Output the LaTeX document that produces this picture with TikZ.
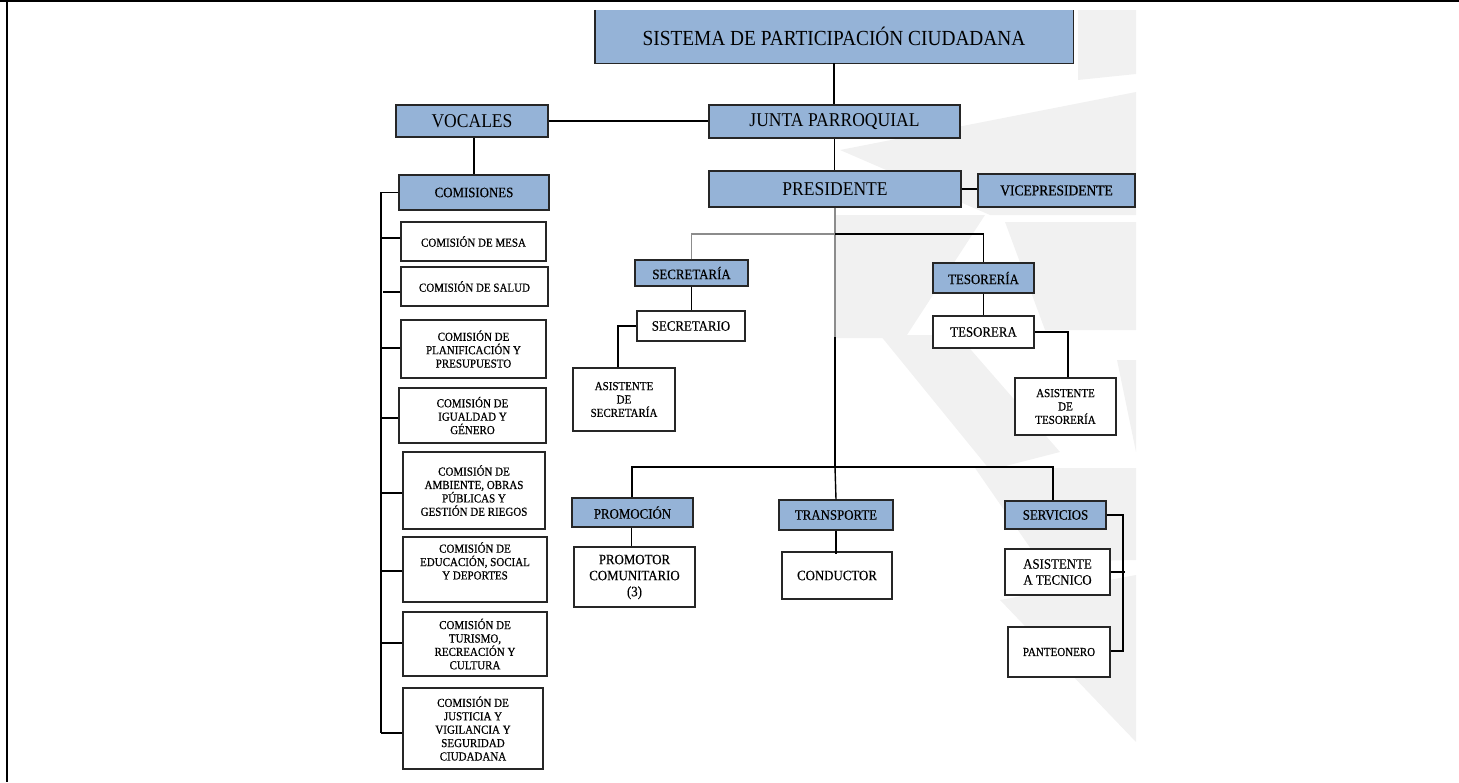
\documentclass[tikz,border=0pt]{standalone}
\usepackage{fontspec}
\setmainfont{Liberation Serif}[FakeStretch=0.9]
\newfontfamily\smallfam{Liberation Serif}[FakeStretch=0.9,FakeBold=0.6]
\newfontfamily\medfam{Liberation Serif}[FakeStretch=0.9,FakeBold=0.3]
\definecolor{boxblue}{HTML}{95B3D7}
\definecolor{wm}{HTML}{F1F1F1}
\begin{document}
\begin{tikzpicture}[x=1pt,y=-1pt,
  boxbase/.style={draw=black!85, line width=1.4pt, inner sep=0pt, align=center},
  bluebox/.style={boxbase, fill=boxblue},
  whitebox/.style={boxbase, fill=white},
  conn/.style={draw=black, line width=1.4pt},
  connlight/.style={draw=black!45, line width=1.4pt},
  bigf/.style={font=\fontsize{19.5}{22}\selectfont},
  medf/.style={font=\medfam\fontsize{14.3}{16}\selectfont},
  smlf/.style={font=\smallfam\fontsize{12.2}{13.4}\selectfont},
  wmark/.style={fill=wm, draw=none}
]
\useasboundingbox (0,0) rectangle (1459,782);
% watermark (approximate)
\fill[wmark] (1078,10) -- (1136,10) -- (1136,74) -- (1078,80) -- cycle;
\fill[wmark] (840,150) -- (1136,92) -- (1136,215) -- (990,215) -- cycle;
\fill[wmark] (836,215) -- (985,215) -- (905,338) -- (836,338) -- cycle;
\fill[wmark] (1005,222) -- (1136,222) -- (1136,330) -- (1045,330) -- cycle;
\fill[wmark] (880,335) -- (958,335) -- (1060,452) -- (990,470) -- cycle;
\fill[wmark] (1117,360) -- (1136,360) -- (1136,452) -- cycle;
\fill[wmark] (975,468) -- (1136,468) -- (1136,560) -- (1040,562) -- cycle;
\fill[wmark] (1000,600) -- (1136,575) -- (1136,742) -- cycle;
% frame
\draw[line width=2pt] (0,1) -- (1459,1);
\draw[line width=2pt] (7,0) -- (7,782);
% top box (top edge cut)
\node[fill=boxblue, inner sep=0pt, minimum width=478pt, minimum height=53pt,
      font=\fontsize{21.5}{24}\selectfont] (sis) at (834,36.5) {SISTEMA DE PARTICIPACIÓN CIUDADANA};
\draw[draw=black!85, line width=1.4pt] (sis.north west) -- (sis.south west) -- (sis.south east) -- (sis.north east);
% main boxes
\node[bluebox,bigf,minimum width=251pt,minimum height=33pt] (junta) at (834.5,121.5) {JUNTA PARROQUIAL};
\node[bluebox,bigf,minimum width=152pt,minimum height=32pt] (voc) at (472,121) {VOCALES};
\node[bluebox,medf,minimum width=150pt,minimum height=35pt] (com) at (474,192.5) {COMISIONES};
\node[bluebox,bigf,minimum width=252pt,minimum height=36pt] (pres) at (835,189) {PRESIDENTE};
\node[bluebox,font=\smallfam\fontsize{15}{16}\selectfont,minimum width=157pt,minimum height=33pt] (vice) at (1056.5,190.5) {VICEPRESIDENTE};
% comisiones
\node[whitebox,smlf,minimum width=145pt,minimum height=39pt] (mesa) at (473.5,241.5) {COMISIÓN DE MESA};
\node[whitebox,smlf,minimum width=147pt,minimum height=39pt] (salud) at (474.5,286.5) {COMISIÓN DE SALUD};
\node[whitebox,smlf,minimum width=145pt,minimum height=58pt] (planif) at (473.5,349) {COMISIÓN DE\\PLANIFICACIÓN Y\\PRESUPUESTO};
\node[whitebox,smlf,minimum width=147pt,minimum height=55pt] (igual) at (472.5,415.5) {COMISIÓN DE\\IGUALDAD Y\\GÉNERO};
\node[whitebox,smlf,minimum width=142pt,minimum height=77pt] (ambi) at (474,490.5) {COMISIÓN DE\\AMBIENTE, OBRAS\\PÚBLICAS Y\\GESTIÓN DE RIEGOS};
\node[whitebox,smlf,minimum width=144pt,minimum height=65pt] (educ) at (475,569.5) {COMISIÓN DE\\EDUCACIÓN, SOCIAL\\Y DEPORTES\\[4pt]};
\node[whitebox,smlf,minimum width=144pt,minimum height=64pt] (turis) at (475,644) {COMISIÓN DE\\TURISMO,\\RECREACIÓN Y\\CULTURA};
\node[whitebox,smlf,minimum width=140pt,minimum height=81pt] (justi) at (473,728.5) {COMISIÓN DE\\JUSTICIA Y\\VIGILANCIA Y\\SEGURIDAD\\CIUDADANA};
% secretaria / tesoreria
\node[bluebox,medf,minimum width=113pt,minimum height=26pt] (secr) at (691.5,273) {SECRETARÍA};
\node[whitebox,medf,minimum width=108pt,minimum height=30pt] (secro) at (691,326) {SECRETARIO};
\node[whitebox,smlf,minimum width=102pt,minimum height=63pt] (asec) at (624,399.5) {ASISTENTE\\DE\\SECRETARÍA};
\node[bluebox,medf,minimum width=101pt,minimum height=30pt] (teso) at (983.5,278) {TESORERÍA};
\node[whitebox,medf,minimum width=101pt,minimum height=32pt] (tesa) at (983.5,332) {TESORERA};
\node[whitebox,smlf,minimum width=101pt,minimum height=57pt] (ates) at (1065.5,406.5) {ASISTENTE\\DE\\TESORERÍA};
% lower row
\node[bluebox,medf,minimum width=121pt,minimum height=29pt] (prom) at (632.5,512.5) {PROMOCIÓN};
\node[bluebox,medf,minimum width=114pt,minimum height=30pt] (trans) at (836,515) {TRANSPORTE};
\node[bluebox,medf,minimum width=101pt,minimum height=28pt] (serv) at (1055.5,515) {SERVICIOS};
\node[whitebox,medf,minimum width=121pt,minimum height=60pt] (promo) at (634.5,577) {PROMOTOR\\COMUNITARIO\\(3)};
\node[whitebox,medf,minimum width=110pt,minimum height=47pt] (cond) at (837,575.5) {CONDUCTOR};
\node[whitebox,medf,minimum width=105pt,minimum height=46pt] (atec) at (1057.5,572) {ASISTENTE\\A TECNICO};
\node[whitebox,smlf,minimum width=102pt,minimum height=50pt] (pant) at (1059,652) {PANTEONERO};
% coordinates
\coordinate (b1) at (835,234);
\coordinate (tk) at (835,337);
\coordinate (b2) at (835,467);
\coordinate (lb) at (381,733);
\coordinate (r1) at (1123,515);
\coordinate (r2) at (1123,651);
% connectors
\draw[conn] (sis.south) -- (sis.south |- junta.north);
\draw[conn] (voc.east) -- (voc.east -| junta.west);
\draw[conn] (com.north) -- (com.north |- voc.south);
\draw[conn] (junta.south) -- (junta.south |- pres.north);
\draw[conn] (pres.east) -- (pres.east -| vice.west);
\draw[connlight] (pres.south) -- (tk);
\draw[conn] (tk) -- (b2);
\draw[connlight] (secr.north) |- (b1);
\draw[conn] (b1) -| (teso.north);
\draw[conn] (secr.south) -- (secr.south |- secro.north);
\draw[conn] (secro.west) -| ([xshift=-6pt]asec.north);
\draw[conn] (teso.south) -- (teso.south |- tesa.north);
\draw[conn] (tesa.east) -| ([xshift=2.5pt]ates.north);
\draw[conn] ([xshift=-0.5pt]prom.north) |- (b2) -| ([xshift=-2.5pt]serv.north);
\draw[conn] (b2) -- (trans.north);
\draw[conn] ([xshift=-1pt]prom.south) -- ([xshift=-1pt]prom.south |- promo.north);
\draw[conn] (trans.south) -- ([yshift=-3pt]trans.south |- cond.north);
\draw[conn] (serv.east) -- (r1) -- (r2) -- (r2 -| pant.east);
\draw[conn] (atec.east) -- ([xshift=2pt]atec.east -| r1);
% left bracket
\draw[conn] (com.west) -- (com.west -| lb) -- (lb);
\draw[conn] ([yshift=3.5pt]mesa.west) -- ([yshift=3.5pt]mesa.west -| lb);
\draw[conn] ([yshift=-5.5pt]salud.west) -- ([xshift=2pt,yshift=-5.5pt]salud.west -| lb);
\draw[conn] ([yshift=1pt]planif.west) -- ([yshift=1pt]planif.west -| lb);
\draw[conn] ([yshift=-2.5pt]igual.west) -- ([yshift=-2.5pt]igual.west -| lb);
\draw[conn] ([yshift=-2.5pt]ambi.west) -- ([yshift=-2.5pt]ambi.west -| lb);
\draw[conn] ([yshift=-1.5pt]educ.west) -- ([yshift=-1.5pt]educ.west -| lb);
\draw[conn] ([yshift=1pt]turis.west) -- ([yshift=1pt]turis.west -| lb);
\draw[conn] ([yshift=-4.5pt]justi.west) -- ([yshift=-4.5pt]justi.west -| lb);
\end{tikzpicture}
\end{document}
